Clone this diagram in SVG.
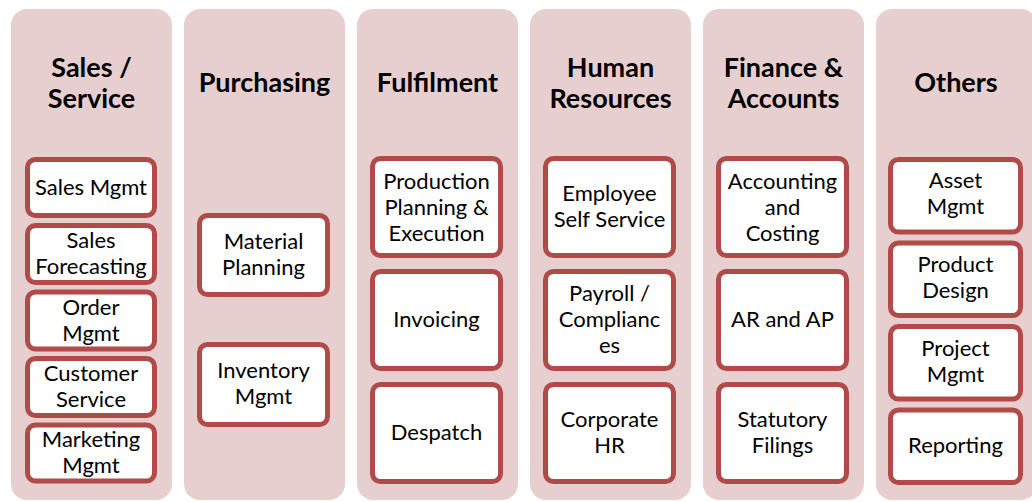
<svg xmlns="http://www.w3.org/2000/svg" width="1032" height="502" viewBox="0 0 1032 502">
  <style>
    .lane { fill: #E7CFCF; }
    .box { fill: #FFFFFF; stroke: #B04B49; stroke-width: 5; }
    .head { font-family: Lato, "Liberation Sans", sans-serif; font-weight: bold; font-size: 27px; fill: #000; text-anchor: middle; }
    .lbl { font-family: Lato, "Liberation Sans", sans-serif; font-size: 22px; fill: #000; text-anchor: middle; }
  </style>
  <rect width="1032" height="502" fill="#FFFFFF"/>

  <!-- Sales / Service -->
  <g id="sales-service">
    <rect class="lane" x="11" y="9" width="161" height="491" rx="16"/>
    <text class="head" x="91.5" y="77">Sales /</text>
    <text class="head" x="91.5" y="108">Service</text>
    <g id="sales-mgmt"><rect class="box" x="27.5" y="159.5" width="127" height="56" rx="8"/>
      <text class="lbl" x="91" y="194.5">Sales Mgmt</text></g>
    <g id="sales-forecasting"><rect class="box" x="27.5" y="225.5" width="127" height="57" rx="8"/>
      <text class="lbl" x="91" y="248">Sales</text><text class="lbl" x="91" y="274">Forecasting</text></g>
    <g id="order-mgmt"><rect class="box" x="27.5" y="292" width="127" height="57" rx="8"/>
      <text class="lbl" x="91" y="314.5">Order</text><text class="lbl" x="91" y="340.5">Mgmt</text></g>
    <g id="customer-service"><rect class="box" x="27.5" y="358.5" width="127" height="57" rx="8"/>
      <text class="lbl" x="91" y="381">Customer</text><text class="lbl" x="91" y="407">Service</text></g>
    <g id="marketing-mgmt"><rect class="box" x="27.5" y="425" width="127" height="56" rx="8"/>
      <text class="lbl" x="91" y="447">Marketing</text><text class="lbl" x="91" y="473">Mgmt</text></g>
  </g>

  <!-- Purchasing -->
  <g id="purchasing">
    <rect class="lane" x="184" y="9" width="161" height="491" rx="16"/>
    <text class="head" x="264.5" y="92">Purchasing</text>
    <g id="material-planning"><rect class="box" x="199.5" y="215.5" width="128" height="79" rx="8"/>
      <text class="lbl" x="263.5" y="248.5">Material</text><text class="lbl" x="263.5" y="274.5">Planning</text></g>
    <g id="inventory-mgmt"><rect class="box" x="199.5" y="344.5" width="128" height="80" rx="8"/>
      <text class="lbl" x="263.5" y="378">Inventory</text><text class="lbl" x="263.5" y="404">Mgmt</text></g>
  </g>

  <!-- Fulfilment -->
  <g id="fulfilment">
    <rect class="lane" x="357" y="9" width="161" height="491" rx="16"/>
    <text class="head" x="437.5" y="92">Fulfilment</text>
    <g id="production-planning"><rect class="box" x="372.5" y="158.5" width="128" height="97" rx="8"/>
      <text class="lbl" x="436.5" y="188.5">Production</text><text class="lbl" x="436.5" y="214.5">Planning &amp;</text><text class="lbl" x="436.5" y="240.5">Execution</text></g>
    <g id="invoicing"><rect class="box" x="372.5" y="271.5" width="128" height="97" rx="8"/>
      <text class="lbl" x="436.5" y="327">Invoicing</text></g>
    <g id="despatch"><rect class="box" x="372.5" y="384.5" width="128" height="97" rx="8"/>
      <text class="lbl" x="436.5" y="440">Despatch</text></g>
  </g>

  <!-- Human Resources -->
  <g id="human-resources">
    <rect class="lane" x="530" y="9" width="161" height="491" rx="16"/>
    <text class="head" x="610.5" y="77">Human</text>
    <text class="head" x="610.5" y="108">Resources</text>
    <g id="employee-self-service"><rect class="box" x="545.5" y="158.5" width="128" height="97" rx="8"/>
      <text class="lbl" x="609.5" y="201">Employee</text><text class="lbl" x="609.5" y="227">Self Service</text></g>
    <g id="payroll-compliances"><rect class="box" x="545.5" y="271.5" width="128" height="97" rx="8"/>
      <text class="lbl" x="609.5" y="301">Payroll /</text><text class="lbl" x="609.5" y="327">Complianc</text><text class="lbl" x="609.5" y="353">es</text></g>
    <g id="corporate-hr"><rect class="box" x="545.5" y="384.5" width="128" height="97" rx="8"/>
      <text class="lbl" x="609.5" y="427">Corporate</text><text class="lbl" x="609.5" y="453">HR</text></g>
  </g>

  <!-- Finance & Accounts -->
  <g id="finance-accounts">
    <rect class="lane" x="703" y="9" width="161" height="491" rx="16"/>
    <text class="head" x="783.5" y="77">Finance &amp;</text>
    <text class="head" x="783.5" y="108">Accounts</text>
    <g id="accounting-costing"><rect class="box" x="718.5" y="158.5" width="128" height="97" rx="8"/>
      <text class="lbl" x="782.5" y="188.5">Accounting</text><text class="lbl" x="782.5" y="214.5">and</text><text class="lbl" x="782.5" y="240.5">Costing</text></g>
    <g id="ar-ap"><rect class="box" x="718.5" y="271.5" width="128" height="97" rx="8"/>
      <text class="lbl" x="782.5" y="327">AR and AP</text></g>
    <g id="statutory-filings"><rect class="box" x="718.5" y="384.5" width="128" height="97" rx="8"/>
      <text class="lbl" x="782.5" y="427">Statutory</text><text class="lbl" x="782.5" y="453">Filings</text></g>
  </g>

  <!-- Others -->
  <g id="others">
    <rect class="lane" x="876" y="9" width="161" height="491" rx="16"/>
    <text class="head" x="956" y="92">Others</text>
    <g id="asset-mgmt"><rect class="box" x="890.5" y="159.5" width="130" height="72.5" rx="8"/>
      <text class="lbl" x="955.5" y="188">Asset</text><text class="lbl" x="955.5" y="214">Mgmt</text></g>
    <g id="product-design"><rect class="box" x="890.5" y="243" width="130" height="72.5" rx="8"/>
      <text class="lbl" x="955.5" y="272">Product</text><text class="lbl" x="955.5" y="298">Design</text></g>
    <g id="project-mgmt"><rect class="box" x="890.5" y="326.5" width="130" height="72.5" rx="8"/>
      <text class="lbl" x="955.5" y="355.5">Project</text><text class="lbl" x="955.5" y="381.5">Mgmt</text></g>
    <g id="reporting"><rect class="box" x="890.5" y="410" width="130" height="72.5" rx="8"/>
      <text class="lbl" x="955.5" y="453">Reporting</text></g>
  </g>
</svg>
